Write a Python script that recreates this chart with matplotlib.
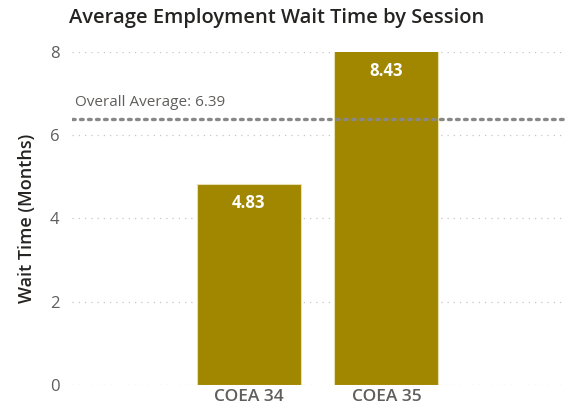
import matplotlib.pyplot as plt

sessions = ["COEA 34", "COEA 35"]
wait_months = [4.83, 8.43]
overall_avg = 6.39
y_ticks = [0, 2, 4, 6, 8]

plt.rcParams["font.family"] = ["Open Sans", "DejaVu Sans"]

bar_color = "#A18600"
dark = "#252423"
gray = "#605E5C"

fig = plt.figure(figsize=(5.66, 4.15), dpi=100)
ax = fig.add_axes([72 / 566, 0.0723, 494 / 566, 0.8024])

x = list(range(len(sessions)))
ax.bar(x, wait_months, width=0.755, color=bar_color, edgecolor="#E8DFB0",
       linewidth=0.8, zorder=2)

ax.set_ylim(0, 8)
ax.set_xlim(-1.282, 2.303)
ax.set_yticks(y_ticks)
ax.set_xticks(x)
ax.set_xticklabels(sessions, fontsize=12.5, fontweight="semibold", color=gray)
ax.tick_params(axis="y", labelsize=12, labelcolor=gray, length=0, pad=9)
ax.tick_params(axis="x", length=0, pad=3)

# dotted grid
for t in y_ticks:
    ax.axhline(t, color="#C8C6C4", linestyle=(0, (1, 4)), linewidth=0.9, zorder=1)

for s in ax.spines.values():
    s.set_visible(False)

# overall average line
ax.axhline(overall_avg, color="#8A8886", linestyle=(0, (0.8, 1.6)),
           linewidth=2.4, dash_capstyle="round", zorder=3)
ax.text(3 / 494, overall_avg + 0.22, f"Overall Average: {overall_avg}",
        transform=ax.get_yaxis_transform(), fontsize=11, color=gray,
        va="bottom", ha="left")

# value labels inside bars
for xi, v in zip(x, wait_months):
    top = min(v, 8)
    ax.annotate(f"{v:.2f}", (xi, top), xytext=(0, -14), textcoords="offset points",
                ha="center", va="center", color="white", fontsize=12,
                fontweight="bold", clip_on=False)

ax.set_ylabel("Wait Time (Months)", fontsize=13, color=dark, labelpad=10,
              fontweight="semibold")
fig.text(69 / 566, 1 - 18 / 415, "Average Employment Wait Time by Session",
         ha="left", va="center", fontsize=14.5, color=dark, fontweight="semibold")

fig.savefig("out.png", dpi=100)
